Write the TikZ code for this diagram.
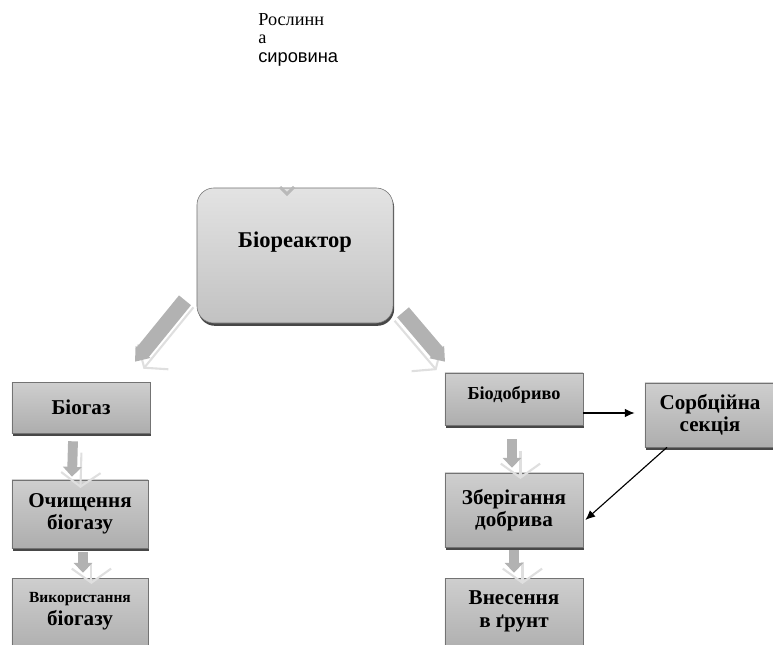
\documentclass[tikz,border=0pt]{standalone}
\usepackage{fontspec}
\setmainfont{Liberation Serif}
\newfontfamily\labelsans{Liberation Sans}
\usetikzlibrary{arrows.meta,positioning,shadows}

\begin{document}
\begin{tikzpicture}[x=0.025cm, y=-0.025cm,
    unitbox/.style={rectangle, draw=black!55, top color=gray!38, bottom color=gray!64,
      drop shadow={shadow xshift=0.8pt, shadow yshift=-2pt, fill=black!80, opacity=0.9},
      align=center, inner sep=2pt, font=\fontsize{15}{16}\selectfont\bfseries},
    flowarrow/.style={draw=gray!60, line width=7pt, -{Triangle[length=7pt,width=13pt]},
      preaction={draw=gray!25, line width=1.5pt, -{Straight Barb[length=10pt,width=28pt]},
        transform canvas={shift={#1}}}},
    flowarrow/.default={(6pt,-8pt)},
    linkarrow/.style={-{Latex[length=7pt,width=6pt]}, line width=0.8pt}
  ]
    \clip (0,0) rectangle (773,644);

    % feedstock label
    \node[anchor=north west, align=left, inner sep=0pt, font=\fontsize{13}{13.2}\selectfont]
      (feedstock) at (258,13) {Рослинн\\а\\{\labelsans сировина}};

    % main reactor
    \node[unitbox, rounded corners=12pt, top color=gray!22, bottom color=gray!48,
      minimum width=4.9cm, minimum height=3.375cm, text depth=0.8cm,
      font=\fontsize{16}{17}\selectfont\bfseries] (reactor) at (295,255.5) {Біореактор};
    \draw[gray!55, line width=2.2pt] (280,187) -- (287,194) -- (294,187);

    % gas branch
    \node[unitbox, minimum width=3.45cm, minimum height=1.275cm] (biogas) at (81,407.5) {Біогаз};
    \node[unitbox, minimum width=3.4cm, minimum height=1.7cm] (gasclean) at (80,514) {Очищення\\біогазу};
    \node[unitbox, minimum width=3.4cm, minimum height=1.9cm, text depth=0.35cm] (gasuse) at (80,616)
      {{\fontsize{11}{12}\selectfont Використання}\\біогазу};

    % fertilizer branch
    \node[unitbox, minimum width=3.45cm, minimum height=1.3cm, text depth=0.3cm,
      font=\fontsize{13}{14}\selectfont\bfseries] (fertilizer) at (514,399) {Біодобриво};
    \node[unitbox, minimum width=3.25cm, minimum height=1.6cm] (sorption) at (710,415) {Сорбційна\\секція};
    \node[unitbox, minimum width=3.45cm, minimum height=1.85cm] (storage) at (514,510) {Зберігання\\добрива};
    \node[unitbox, minimum width=3.45cm, minimum height=1.9cm, text depth=0.35cm] (soilapply) at (514,616)
      {Внесення\\в ґрунт};

    % block arrows
    \draw[flowarrow={(6pt,-5pt)}, line width=11pt, -{Triangle[length=9pt,width=13pt]}]
      ([shift={(-110,-23)}]reactor.south) -- ([shift={(54,-20)}]biogas.north);
    \draw[flowarrow={(-6pt,-6pt)}, line width=11pt, -{Triangle[length=9pt,width=13pt]}]
      ([shift={(108,-11)}]reactor.south) -- ([shift={(-69,-11)}]fertilizer.north);
    \draw[flowarrow] ([shift={(-8,8)}]biogas.south) -- ([shift={(-8,-3)}]gasclean.north);
    \draw[flowarrow] ([shift={(3,4)}]gasclean.south) -- ([shift={(3,-5)}]gasuse.north);
    \draw[flowarrow] ([shift={(-2,14)}]fertilizer.south) -- ([shift={(-2,-5)}]storage.north);
    \draw[flowarrow] ([shift={(0,3)}]storage.south) -- ([shift={(0,-5)}]soilapply.north);

    % thin links
    \draw[linkarrow] ([shift={(0,14)}]fertilizer.east) -- ([shift={(-10,-2)}]sorption.west);
    \draw[linkarrow] ([shift={(-43,0)}]sorption.south) -- ([shift={(2,10)}]storage.east);
\end{tikzpicture}
\end{document}
